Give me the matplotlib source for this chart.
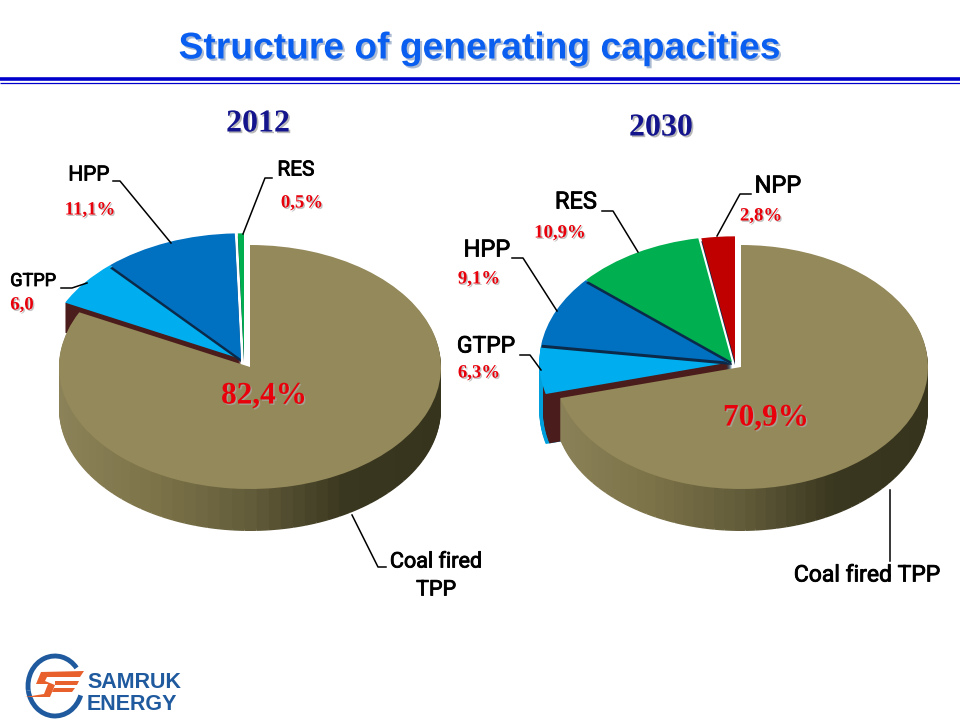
import matplotlib
matplotlib.use('Agg')
import matplotlib.pyplot as plt
import matplotlib.patheffects as pe
from matplotlib.colors import LinearSegmentedColormap
from matplotlib.patches import Arc, Polygon
import numpy as np

# shares in percent, clockwise from 12 o'clock, coal first
shares_2012 = [82.4, 6.0, 11.1, 0.5]
colors_2012 = ['#94895a', '#00aeef', '#0070c0', '#00b050']
shares_2030 = [70.9, 6.3, 9.1, 10.9, 2.8]
colors_2030 = ['#94895a', '#00aeef', '#0070c0', '#00b050', '#c00000']

title_text = 'Structure of generating capacities'
RED = '#e8000b'

wall_cmap = LinearSegmentedColormap.from_list(
    'wall', ['#8c8259', '#7d7349', '#625c3a', '#3a3720', '#37341e'])

fig = plt.figure(figsize=(9.6, 7.2), dpi=100, facecolor='white')


def draw_3d_pie(shares, colors, cx, cy, rx, ry, shift, depth, wall_depth, rim):
    """Coal wedge sits at (cx, cy), the other wedges are pulled out together by shift px."""
    ax = fig.add_axes([0, 0, 1, 1], facecolor='none')
    start = 90 - 360 * shares[0] / 100
    radius = 1.03
    gx, gy = -shift[0] / rx, shift[1] / ry

    def wedge(vals, cols, start_at, dx=0.0, dy=0.0, r=radius):
        ax.pie(vals, colors=cols, startangle=start_at, counterclock=False,
               normalize=False, center=(dx, dy), radius=r)

    # extruded wall of the first small wedge, hidden later by the coal wedge
    for d in range(wall_depth, 0, -1):
        wedge([shares[1] / 100], [rim], start, gx, gy - d / ry)
    for d in range(wall_depth, 0, -1):
        wedge([shares[1] / 100], ['#4a1c1c'], start, gx, gy - d / ry, r=radius * 0.98)

    # small wedges, each with a dark underlay that shows as the separator
    angle = start
    for i in range(1, len(shares)):
        val = shares[i] / 100
        last = i == len(shares) - 1
        dx = gx + (3 / rx if last else 0)
        if i > 1:
            wedge([val], ['#0b2a4a'], angle, dx, gy - 3 / ry)
        wedge([val], [colors[i]], angle, dx, gy)
        angle -= 360 * val

    # coal wall, shaded from left to right
    n = 80
    step = shares[0] / 100 / n
    mids = np.radians(90 - 360 * step * (np.arange(n) + 0.5))
    wall_cols = [wall_cmap((np.cos(m) + 1) / 2) for m in mids]
    for d in range(depth, 0, -1):
        ax.pie([step] * n, colors=wall_cols, startangle=90, counterclock=False,
               normalize=False, center=(0, -d / ry), radius=1.0)
    ax.pie([shares[0] / 100], colors=[colors[0]], startangle=90, counterclock=False,
           normalize=False, radius=1.0)

    ax.set_aspect('auto')
    ax.set_xlim(-cx / rx, (960 - cx) / rx)
    ax.set_ylim((cy - 720) / ry, cy / ry)
    ax.axis('off')


draw_3d_pie(shares_2012, colors_2012, 250, 367, 191, 122, (9, 8), 42, 30, '#4a1c1c')
draw_3d_pie(shares_2030, colors_2030, 741, 367, 187, 122, (9, 5), 42, 50, '#00a0dc')

# page layer in pixel coordinates: text, rules, leaders, logo
page = fig.add_axes([0, 0, 1, 1], facecolor='none')
page.set_xlim(0, 960)
page.set_ylim(720, 0)
page.axis('off')

page.plot([0, 960], [79, 79], color='#0000cc', lw=2.6, solid_capstyle='butt')
page.plot([0, 960], [82.5, 82.5], color='#0000cc', lw=0.9, solid_capstyle='butt')

page.text(480, 49, title_text, ha='center', va='center', fontsize=26.8,
          fontweight='bold', family='Liberation Sans', color='#0a5ff0',
          path_effects=[pe.withSimplePatchShadow(offset=(1.5, -1.5), shadow_rgbFace='#8a9fc0', alpha=0.7)])

for x, y, s in [(258, 124, '2012'), (661, 128, '2030')]:
    page.text(x, y, s, ha='center', va='center', fontsize=23, fontweight='bold',
              family='Liberation Serif', color='#14148c',
              path_effects=[pe.withSimplePatchShadow(offset=(1.2, -1.2), shadow_rgbFace='#999999', alpha=0.7)])

# black category labels, regular face thickened with a thin stroke
labels = [
    (89, 175, 'HPP', 15), (296, 170, 'RES', 15), (33, 281, 'GTPP', 13),
    (436, 562, 'Coal fired', 15.5), (436, 590, 'TPP', 15.5),
    (778, 186, 'NPP', 17), (576, 202, 'RES', 17), (487, 250, 'HPP', 17),
    (486, 346, 'GTPP', 16.5), (867, 575, 'Coal fired TPP', 16.5),
]
for x, y, s, size in labels:
    page.text(x, y, s, ha='center', va='center', fontsize=size, family='Roboto',
              color='black', path_effects=[pe.withStroke(linewidth=0.6, foreground='black')])

# red value labels
values = [
    (90, 210, '11,1%', 13.5), (302, 203, '0,5%', 13.5), (22, 305, '6,0', 13.5),
    (264, 396, '82,4%', 22.5), (761, 216, '2,8%', 13.5), (560, 233, '10,9%', 13.5),
    (479, 279, '9,1%', 13.5), (479, 373, '6,3%', 13.5), (766, 418, '70,9%', 22.5),
]
for x, y, s, size in values:
    page.text(x, y, s, ha='center', va='center', fontsize=size, family='Liberation Serif',
              fontweight='bold', color=RED,
              path_effects=[pe.withSimplePatchShadow(offset=(1, -1), shadow_rgbFace='#aaaaaa', alpha=0.7)])

# leader lines
leaders = [
    ([113, 120, 171], [181, 181, 243]),
    ([272, 265, 243], [178, 178, 234]),
    ([61, 72, 87], [288, 288, 283]),
    ([352, 378, 386], [515, 567, 567]),
    ([751, 740, 717], [194, 194, 236]),
    ([602, 613, 638], [211, 211, 252]),
    ([512, 523, 557], [258, 258, 311]),
    ([520, 530, 541], [355, 355, 370]),
    ([890, 890], [490, 561]),
]
for xs, ys in leaders:
    page.plot(xs, ys, color='black', lw=1.1)

# logo
for t1, t2 in [(170, 320), (20, 170)]:
    page.add_patch(Arc((55, 686), 54, 60, theta1=t1, theta2=t2, color='#1f5a9e', lw=3.5))
page.add_patch(Polygon([(84, 671), (41, 672), (36, 684), (48, 684), (44, 694), (25, 697),
                        (50, 697), (55, 685), (45, 681), (47, 677), (80, 677)],
                       closed=True, color='#e8602c', lw=0))
page.add_patch(Polygon([(55, 681), (79, 681), (77, 685), (55, 685)], closed=True, color='#e8602c', lw=0))
page.add_patch(Polygon([(54, 688), (75, 688), (72, 692), (52, 692)], closed=True, color='#e8602c', lw=0))
page.text(87, 682, 'SAMRUK', ha='left', va='center', fontsize=15.5, fontweight='bold',
          family='Liberation Sans', color='#1f5a9e')
page.text(87, 704, 'ENERGY', ha='left', va='center', fontsize=15.5, fontweight='bold',
          family='Liberation Sans', color='#1f5a9e')

fig.savefig('out.png', dpi=100)
